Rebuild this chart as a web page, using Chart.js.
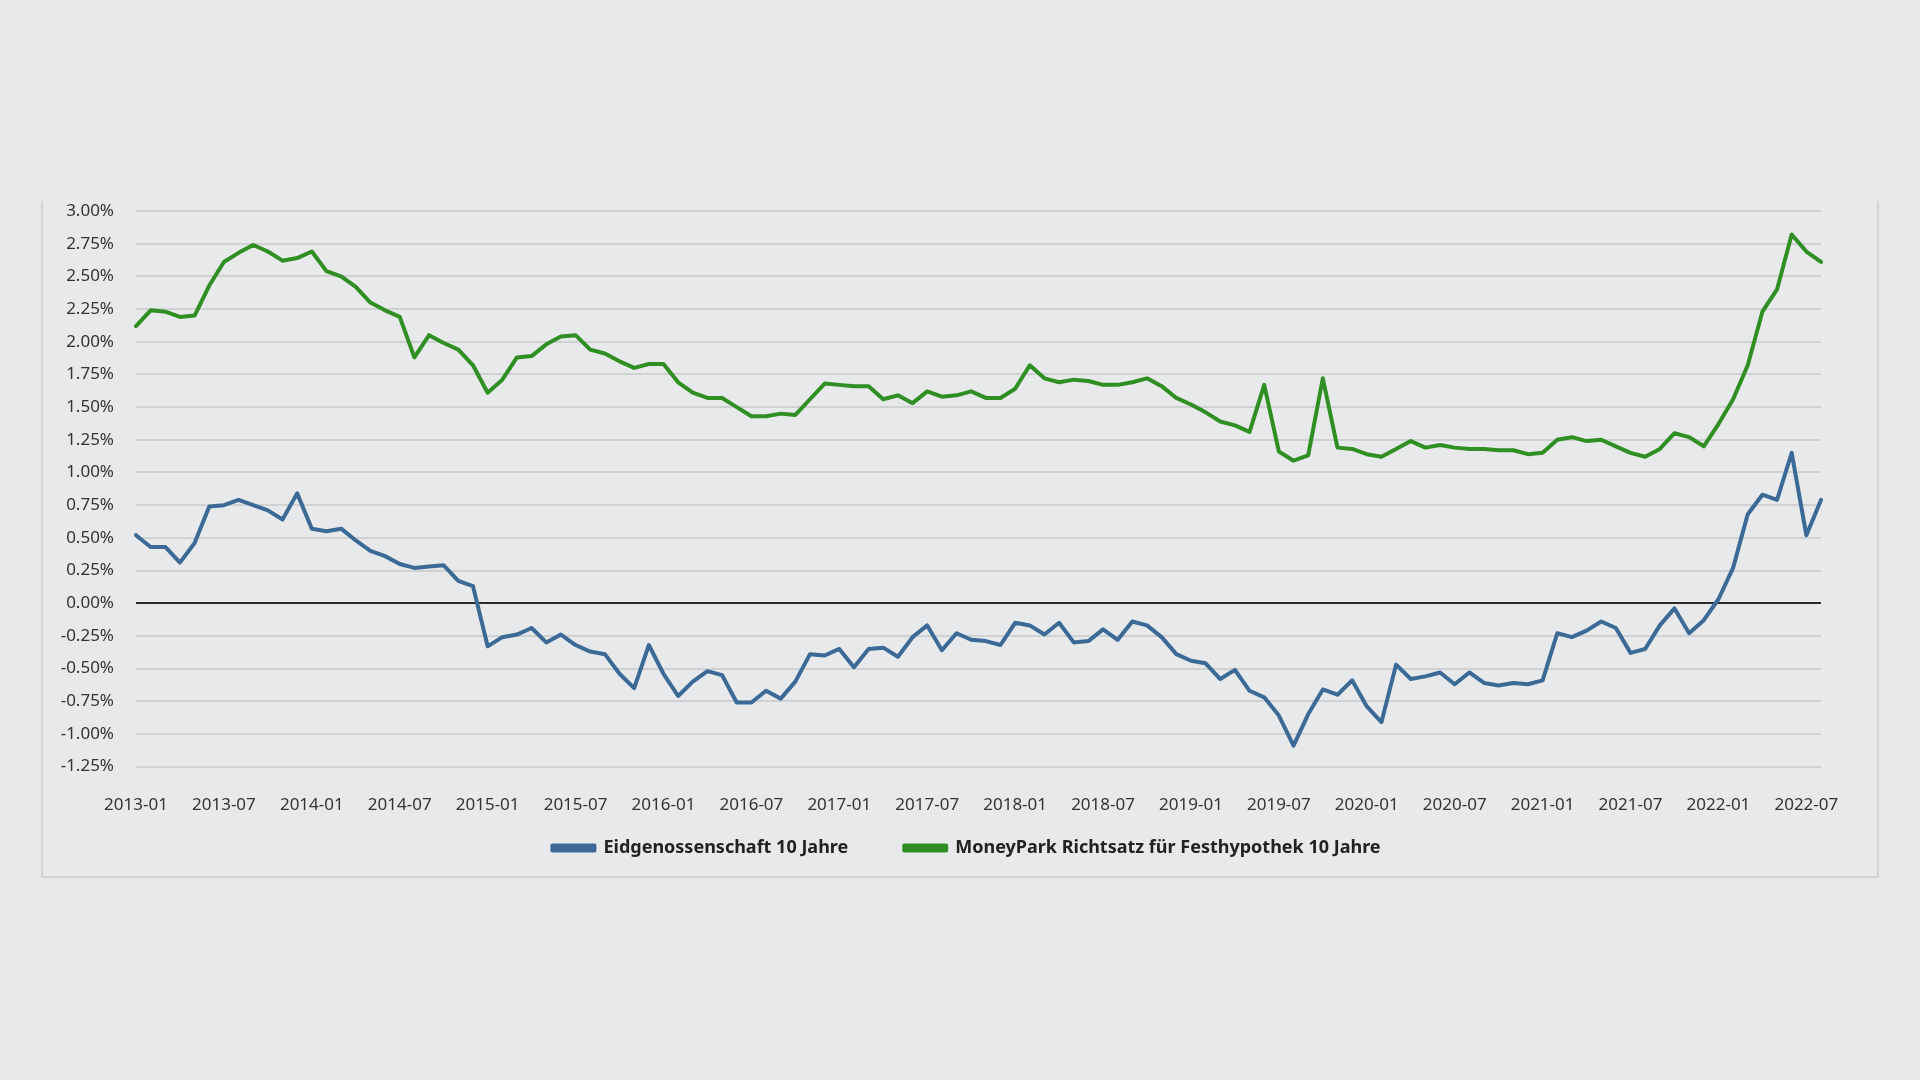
<!DOCTYPE html>
<html>
<head>
<meta charset="utf-8">
<script src="https://cdn.jsdelivr.net/npm/chart.js@4"></script>
<style>
  html, body { margin: 0; padding: 0; background: #e8e9eb; }
  body { width: 1920px; height: 1080px; position: relative; overflow: hidden; }
  #frame { position: absolute; left: 41px; top: 201px; width: 1834px; height: 675px;
           border-left: 2px solid #d2d4d6; border-right: 2px solid #d2d4d6; border-bottom: 2px solid #d2d4d6; }
  #c { position: absolute; left: 42px; top: 200px; }
</style>
</head>
<body>
<div id="frame"></div>
<canvas id="c" width="1834" height="727"></canvas>
<script>
const months = [
  '2013-01','2013-02','2013-03','2013-04','2013-05','2013-06','2013-07','2013-08','2013-09','2013-10','2013-11','2013-12',
  '2014-01','2014-02','2014-03','2014-04','2014-05','2014-06','2014-07','2014-08','2014-09','2014-10','2014-11','2014-12',
  '2015-01','2015-02','2015-03','2015-04','2015-05','2015-06','2015-07','2015-08','2015-09','2015-10','2015-11','2015-12',
  '2016-01','2016-02','2016-03','2016-04','2016-05','2016-06','2016-07','2016-08','2016-09','2016-10','2016-11','2016-12',
  '2017-01','2017-02','2017-03','2017-04','2017-05','2017-06','2017-07','2017-08','2017-09','2017-10','2017-11','2017-12',
  '2018-01','2018-02','2018-03','2018-04','2018-05','2018-06','2018-07','2018-08','2018-09','2018-10','2018-11','2018-12',
  '2019-01','2019-02','2019-03','2019-04','2019-05','2019-06','2019-07','2019-08','2019-09','2019-10','2019-11','2019-12',
  '2020-01','2020-02','2020-03','2020-04','2020-05','2020-06','2020-07','2020-08','2020-09','2020-10','2020-11','2020-12',
  '2021-01','2021-02','2021-03','2021-04','2021-05','2021-06','2021-07','2021-08','2021-09','2021-10','2021-11','2021-12',
  '2022-01','2022-02','2022-03','2022-04','2022-05','2022-06','2022-07','2022-08'
];

const xTickLabels = [
  '2013-01','2013-07','2014-01','2014-07','2015-01','2015-07','2016-01','2016-07','2017-01','2017-07',
  '2018-01','2018-07','2019-01','2019-07','2020-01','2020-07','2021-01','2021-07','2022-01','2022-07'
];

const eidgenossenschaft = [
  0.52,0.43,0.43,0.31,0.46,0.74,0.75,0.79,0.75,0.71,0.64,0.84,0.57,0.55,0.57,0.48,0.40,0.36,0.30,0.27,0.28,0.29,0.17,0.13,
  -0.33,-0.26,-0.24,-0.19,-0.30,-0.24,-0.32,-0.37,-0.39,-0.54,-0.65,-0.32,-0.54,-0.71,-0.60,-0.52,-0.55,-0.76,-0.76,-0.67,-0.73,-0.60,-0.39,
  -0.40,-0.35,-0.49,-0.35,-0.34,-0.41,-0.26,-0.17,-0.36,-0.23,-0.28,-0.29,-0.32,-0.15,-0.17,-0.24,-0.15,-0.30,-0.29,-0.20,-0.28,-0.14,-0.17,
  -0.26,-0.39,-0.44,-0.46,-0.58,-0.51,-0.67,-0.72,-0.86,-1.09,-0.85,-0.66,-0.70,-0.59,-0.79,-0.91,-0.47,-0.58,-0.56,-0.53,-0.62,-0.53,-0.61,
  -0.63,-0.61,-0.62,-0.59,-0.23,-0.26,-0.21,-0.14,-0.19,-0.38,-0.35,-0.17,-0.04,-0.23,-0.13,0.03,0.27,0.68,0.83,0.79,1.15,0.52,0.79
];

const moneypark = [
  2.12,2.24,2.23,2.19,2.20,2.43,2.61,2.68,2.74,2.69,2.62,2.64,2.69,2.54,2.50,2.42,2.30,2.24,2.19,1.88,2.05,1.99,1.94,1.82,
  1.61,1.71,1.88,1.89,1.98,2.04,2.05,1.94,1.91,1.85,1.80,1.83,1.83,1.69,1.61,1.57,1.57,1.50,1.43,1.43,1.45,1.44,1.56,
  1.68,1.67,1.66,1.66,1.56,1.59,1.53,1.62,1.58,1.59,1.62,1.57,1.57,1.64,1.82,1.72,1.69,1.71,1.70,1.67,1.67,1.69,1.72,
  1.66,1.57,1.52,1.46,1.39,1.36,1.31,1.67,1.16,1.09,1.13,1.72,1.19,1.18,1.14,1.12,1.18,1.24,1.19,1.21,1.19,1.18,1.18,
  1.17,1.17,1.14,1.15,1.25,1.27,1.24,1.25,1.20,1.15,1.12,1.18,1.30,1.27,1.20,1.37,1.56,1.82,2.23,2.40,2.82,2.69,2.61
];

const seriesNames = ['Eidgenossenschaft 10 Jahre', 'MoneyPark Richtsatz für Festhypothek 10 Jahre'];
const yMin = -1.25, yMax = 3.0, yStep = 0.25;

const FONT = "'Noto Sans', 'Open Sans', sans-serif";

// layout tweak: move legend up/right to sit like the reference
const legendShift = {
  id: 'legendShift',
  afterLayout(chart) {
    const lg = chart.legend;
    if (!lg) return;
    const dy = -60, dx = 35;
    lg.top += dy; lg.bottom += dy;
    lg.left += dx; lg.right += dx;
  }
};

new Chart(document.getElementById('c'), {
  type: 'line',
  data: {
    labels: months,
    datasets: [
      { label: seriesNames[0], data: eidgenossenschaft, borderColor: '#3b6a97', backgroundColor: '#3b6a97',
        borderWidth: 4, pointRadius: 0, tension: 0, borderJoinStyle: 'round', borderCapStyle: 'round' },
      { label: seriesNames[1], data: moneypark, borderColor: '#2f8f23', backgroundColor: '#2f8f23',
        borderWidth: 4, pointRadius: 0, tension: 0, borderJoinStyle: 'round', borderCapStyle: 'round' }
    ]
  },
  plugins: [legendShift],
  options: {
    responsive: false,
    animation: false,
    devicePixelRatio: 1,
    layout: { padding: { top: 11, right: 55, left: 0, bottom: 0 } },
    plugins: {
      legend: {
        position: 'bottom',
        align: 'center',
        labels: {
          boxWidth: 42, boxHeight: 5, padding: 56, color: '#222',
          font: { family: FONT, size: 18, weight: 'bold' }
        }
      },
      tooltip: { enabled: false }
    },
    scales: {
      x: {
        type: 'category',
        offset: false,
        grid: { display: false, drawTicks: false },
        border: { display: false },
        ticks: {
          autoSkip: false, maxRotation: 0, minRotation: 0, padding: 28, color: '#333',
          font: { family: FONT, size: 17 },
          callback: function(v, i) { const l = months[i]; return xTickLabels.includes(l) ? l : ''; }
        }
      },
      y: {
        min: yMin, max: yMax,
        grid: {
          drawTicks: true,
          tickLength: 22,
          tickColor: 'rgba(0,0,0,0)',
          color: c => (c.tick && Math.abs(c.tick.value) < 1e-9) ? '#2b2b2b' : '#d0d1d3',
          lineWidth: 2
        },
        border: { display: false },
        ticks: {
          stepSize: yStep, padding: 0, color: '#333',
          font: { family: FONT, size: 17 },
          callback: v => v.toFixed(2) + '%'
        },
        afterFit: function(s) { s.width = 94; }
      }
    }
  }
});
</script>
</body>
</html>
